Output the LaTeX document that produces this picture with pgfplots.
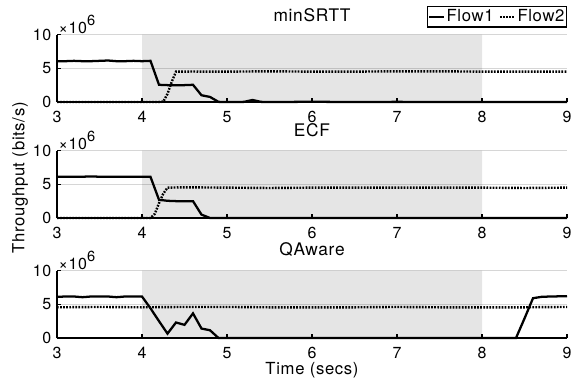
\documentclass[border=0pt]{standalone}
\usepackage{pgfplots}
\pgfplotsset{compat=1.18}
\usepackage{fontspec}
\setmainfont{TeX Gyre Heros}[LetterSpace=4]
\definecolor{gridc}{gray}{0.84}
\newcommand{\fs}{\fontsize{12.5}{14}\selectfont}
\newcommand{\ft}{\fontsize{12}{14}\selectfont}
\newcommand{\fti}{\fontsize{13}{15}\selectfont}
\newcommand{\mult}{×10\raisebox{6pt}{\fontsize{11}{12}\selectfont 6}}
\pgfplotsset{
 panel/.style={
  scale only axis, width=382.5pt, height=50.6pt,
  xmin=3, xmax=9, ymin=0, ymax=10,
  xtick={3,4,5,6,7,8,9}, ytick={0,5,10},
  axis x line*=bottom, axis y line*=left,
  axis line style={line width=0.9pt, -},
  tick style={line width=0.9pt, black},
  major tick length=3pt,
  tick align=inside,
  ymajorgrids, grid style={gridc, line width=0.8pt},
  clip=false,
  font=\fs,
  tick label style={font=\ft},
  /pgf/number format/assume math mode=true,
  xticklabel style={yshift=-3.2pt},
  yticklabel style={xshift=-0.7pt},
  title style={at={(0.5,1)}, anchor=base, yshift=5.5pt, font=\fti},
 },
 f1/.style={black, line width=1.7pt, solid},
 f2/.style={black, line width=1.8pt, dash pattern=on 1.3pt off 1.0pt},
 sh/.style={draw=none, fill=black, fill opacity=0.1, forget plot},
}
\begin{document}
\begin{tikzpicture}
\useasboundingbox (0,0) rectangle (429.75pt,284.25pt);
% ---------- minSRTT
\begin{axis}[panel, at={(42.75pt,207.75pt)}, anchor=south west, title={minSRTT},
  title style={yshift=-1.5pt},
  legend style={at={(1,1)}, anchor=south east, yshift=5.25pt, legend columns=2, draw=black, line width=0.8pt, inner sep=0.6pt, font=\fs, nodes={inner xsep=0.9pt, inner ysep=1.7pt}, /tikz/every even column/.append style={column sep=3pt}, cells={anchor=west}},
  legend image code/.code={\draw[#1] (0cm,0cm) -- (0.4cm,0cm);}]
\addplot[sh] coordinates {(4,0)(4,10)(8,10)(8,0)} \closedcycle;
\addplot[f1] coordinates {(3.0,6.05)(3.1,6.05)(3.2,6.1)(3.3,6.05)(3.4,6.05)(3.5,6.1)(3.6,6.15)(3.7,6.05)(3.8,6.05)(3.9,6.1)(4.0,6.05)(4.1,6.1)(4.2,2.55)(4.3,2.5)(4.4,2.5)(4.5,2.5)(4.6,2.55)(4.7,1.0)(4.8,0.75)(4.9,0.02)(5.0,0)(5.1,0)(5.2,0.02)(5.3,0.3)(5.4,0.02)(5.5,0)(6.0,0.03)(6.5,0)(7.0,0.02)(7.5,0)(8.0,0)(8.5,0)(9.0,0)};
\addlegendentry{Flow1}
\addplot[f2] coordinates {(3.0,0)(3.5,0)(4.0,0)(4.2,0)(4.25,0.05)(4.3,1.2)(4.35,3.0)(4.4,4.5)(4.5,4.5)(4.6,4.52)(4.7,4.5)(5.0,4.5)(5.5,4.55)(6.0,4.5)(6.5,4.5)(7.0,4.55)(7.5,4.55)(8.0,4.5)(8.5,4.5)(9.0,4.5)};
\addlegendentry{Flow2}
\node[anchor=base west, inner sep=0pt, xshift=1pt, yshift=1pt, font=\ft] at (rel axis cs:0,1) {\mult};
\end{axis}
% ---------- ECF
\begin{axis}[panel, at={(42.75pt,120.75pt)}, anchor=south west, title={ECF}, title style={yshift=-1pt}]
\addplot[sh] coordinates {(4,0)(4,10)(8,10)(8,0)} \closedcycle;
\addplot[f1] coordinates {(3.0,6.1)(3.2,6.1)(3.4,6.15)(3.6,6.1)(3.8,6.1)(4.0,6.1)(4.1,6.1)(4.2,2.7)(4.3,2.55)(4.4,2.5)(4.5,2.5)(4.6,2.5)(4.7,0.5)(4.8,0)(5.5,0)(6.0,0)(7.0,0)(8.0,0)(9.0,0)};
\addplot[f2] coordinates {(3.0,0)(3.5,0)(4.0,0)(4.1,0)(4.15,0.6)(4.2,2.2)(4.25,3.6)(4.3,4.5)(4.5,4.55)(5.0,4.5)(5.5,4.45)(6.0,4.5)(6.5,4.5)(7.0,4.5)(7.5,4.5)(8.0,4.5)(8.5,4.45)(9.0,4.5)};
\node[anchor=base west, inner sep=0pt, xshift=1pt, yshift=1pt, font=\ft] at (rel axis cs:0,1) {\mult};
\end{axis}
% ---------- QAware
\begin{axis}[panel, at={(42.75pt,30.75pt)}, anchor=south west, title={QAware},
  xlabel={Time (secs)}, xlabel style={at={(axis description cs:0.5,0)}, anchor=base, yshift=-27pt, font=\fs}]
\addplot[sh] coordinates {(4,0)(4,10)(8,10)(8,0)} \closedcycle;
\addplot[f1] coordinates {(3.0,6.1)(3.1,6.15)(3.2,6.15)(3.3,6.05)(3.4,6.15)(3.5,6.15)(3.6,6.15)(3.7,6.05)(3.8,6.15)(3.9,6.15)(4.0,6.15)(4.1,4.4)(4.2,2.5)(4.3,0.65)(4.4,2.3)(4.5,1.95)(4.6,3.65)(4.7,1.4)(4.8,1.15)(4.9,0)(5.0,0)(6.0,0)(7.0,0)(8.0,0)(8.4,0)(8.5,2.9)(8.6,5.9)(8.7,6.1)(8.8,6.15)(9.0,6.2)};
\addplot[f2] coordinates {(3.0,4.55)(3.5,4.6)(4.0,4.55)(4.5,4.6)(5.0,4.6)(5.5,4.55)(6.0,4.55)(6.5,4.55)(7.0,4.6)(7.5,4.55)(8.0,4.55)(8.5,4.55)(9.0,4.6)};
\node[anchor=base west, inner sep=0pt, xshift=1pt, yshift=1pt, font=\ft] at (rel axis cs:0,1) {\mult};
\end{axis}
\node[rotate=90, font=\fs] at (15pt,150.75pt) {Throughput (bits/s)};
\end{tikzpicture}
\end{document}
